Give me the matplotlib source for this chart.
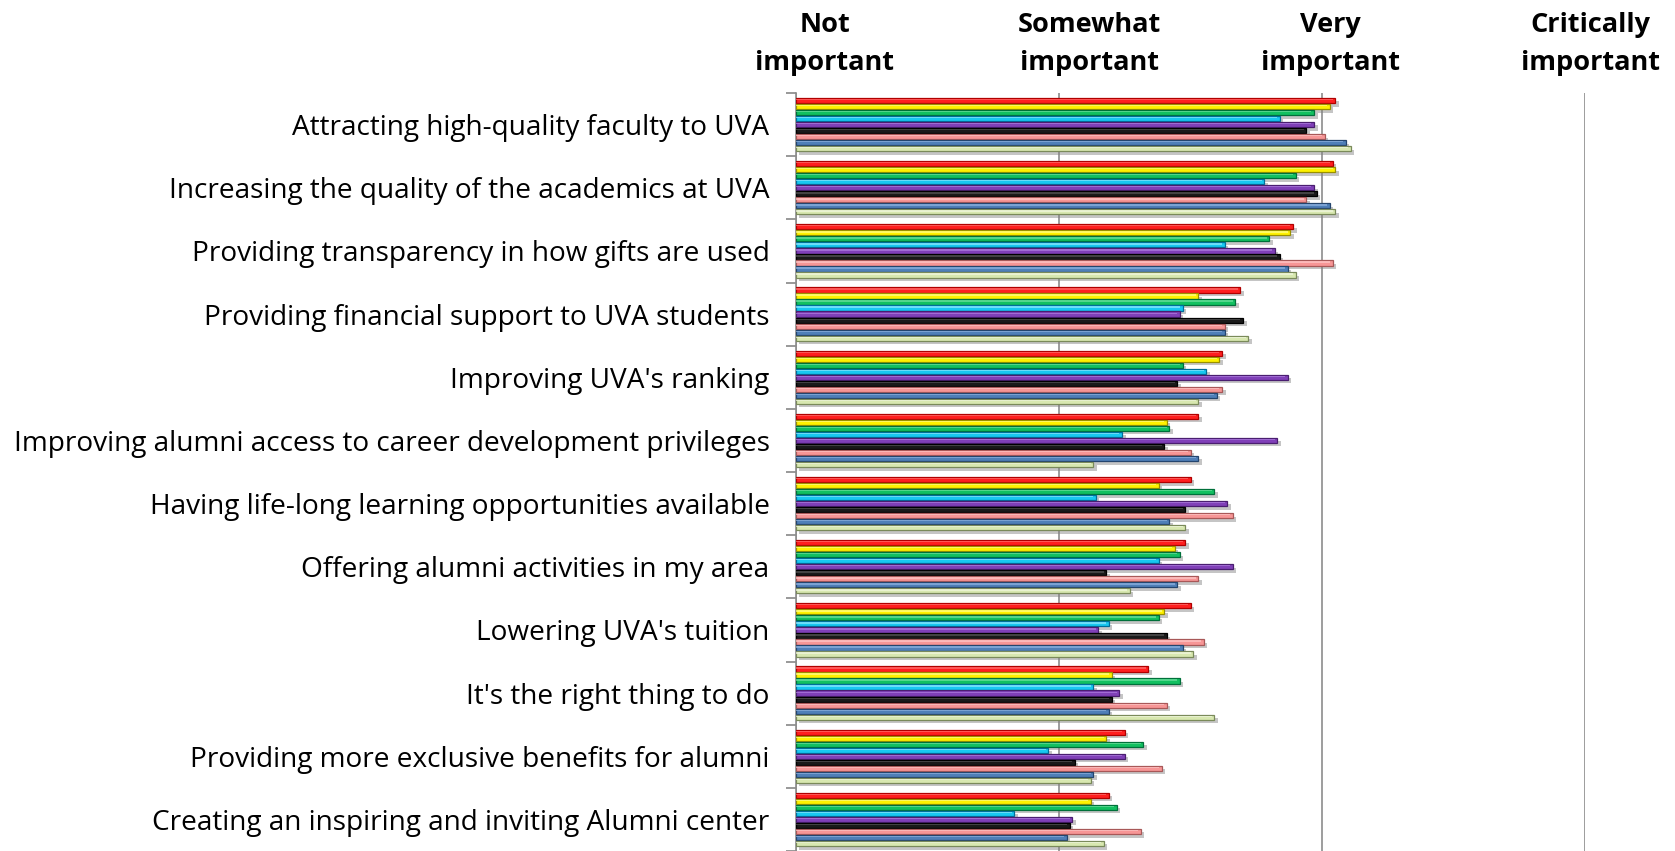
import matplotlib
matplotlib.use("Agg")
import matplotlib.pyplot as plt
import matplotlib.patheffects as pe
import numpy as np

plt.rcParams['font.family'] = ['Open Sans', 'DejaVu Sans']

categories = [
    "Attracting high-quality faculty to UVA",
    "Increasing the quality of the academics at UVA",
    "Providing transparency in how gifts are used",
    "Providing financial support to UVA students",
    "Improving UVA's ranking",
    "Improving alumni access to career development privileges",
    "Having life-long learning opportunities available",
    "Offering alumni activities in my area",
    "Lowering UVA's tuition",
    "It's the right thing to do",
    "Providing more exclusive benefits for alumni",
    "Creating an inspiring and inviting Alumni center",
]

scale_labels = ["Not\nimportant", "Somewhat\nimportant", "Very\nimportant", "Critically\nimportant"]
scale_values = [1, 2, 3, 4]

# one list per series (9 series), values per category (top to bottom)
s_red    = [3.05, 3.04, 2.89, 2.69, 2.62, 2.53, 2.50, 2.48, 2.50, 2.34, 2.25, 2.19]
s_yellow = [3.03, 3.05, 2.88, 2.53, 2.61, 2.41, 2.38, 2.44, 2.40, 2.20, 2.18, 2.12]
s_green  = [2.97, 2.90, 2.80, 2.67, 2.47, 2.42, 2.59, 2.46, 2.38, 2.46, 2.32, 2.22]
s_cyan   = [2.84, 2.78, 2.63, 2.47, 2.56, 2.24, 2.14, 2.38, 2.19, 2.13, 1.96, 1.83]
s_purple = [2.97, 2.97, 2.82, 2.46, 2.87, 2.83, 2.64, 2.66, 2.15, 2.23, 2.25, 2.05]
s_black  = [2.94, 2.98, 2.84, 2.70, 2.45, 2.40, 2.48, 2.18, 2.41, 2.20, 2.06, 2.04]
s_salmon = [3.01, 2.94, 3.04, 2.63, 2.62, 2.50, 2.66, 2.53, 2.55, 2.41, 2.39, 2.31]
s_steel  = [3.09, 3.03, 2.87, 2.63, 2.60, 2.53, 2.42, 2.45, 2.47, 2.19, 2.13, 2.03]
s_lgreen = [3.11, 3.05, 2.90, 2.72, 2.53, 2.13, 2.48, 2.27, 2.51, 2.59, 2.12, 2.17]

series = [s_red, s_yellow, s_green, s_cyan, s_purple, s_black, s_salmon, s_steel, s_lgreen]
face_colors = ["#FF1F1F", "#FFF200", "#12C060", "#18C8F0", "#8040B8",
               "#1A1A1A", "#F79696", "#4F7FB8", "#D8E8B0"]
edge_colors = ["#B00000", "#9A9000", "#00703A", "#006E9A", "#4A1E70",
               "#000000", "#A85858", "#24456E", "#7A8A5A"]
hi_colors = ["#FF7070", "#FFFF90", "#70E0A0", "#90E8FF", "#B080E0",
             "#555555", "#FFC8C8", "#8FB3E0", "#F2F8E0"]

# horizontal offsets (data units) of the header labels from their gridlines
header_offsets = [0.11, 0.115, 0.033, 0.02]

fig = plt.figure(figsize=(16.75, 8.51), dpi=100)
ax = fig.add_axes([796/1675, 0.0, (1585-796)/1675, 1 - 93/851])

n_cat = len(categories)
n_ser = len(series)
slot = 0.86 / n_ser
bar_h = slot * 0.86
y0 = np.arange(n_cat)

for i, vals in enumerate(series):
    vals = np.asarray(vals)
    ypos = y0 - 0.45 + slot * (i + 0.5) + 0.02
    bars = ax.barh(ypos, vals - 1, left=1, height=bar_h, color=face_colors[i],
                   edgecolor=edge_colors[i], linewidth=0.9, zorder=3)
    for b in bars:
        b.set_path_effects([pe.SimplePatchShadow(offset=(2.5, -2.5), shadow_rgbFace="#808080", alpha=0.45),
                            pe.Normal()])
    ax.barh(ypos - bar_h * 0.18, vals - 1.01, left=1, height=bar_h * 0.25,
            color=hi_colors[i], linewidth=0, zorder=4, alpha=0.7)

ax.set_xlim(1, 4)
ax.set_ylim(n_cat - 0.5, -0.5)

ax.set_yticks(y0)
ax.set_yticklabels(categories, fontsize=20.2)
ax.set_yticks(np.arange(n_cat + 1) - 0.5, minor=True)
ax.tick_params(axis='y', which='major', length=0, pad=19)
ax.tick_params(axis='y', which='minor', length=7, width=1.2, color="#888888", direction='out')

ax.set_xticks(scale_values)
ax.set_xticklabels([])
ax.tick_params(axis='x', which='major', length=0)
header_y = 1.0 + 17 / (851 - 93)
for v, lab, off in zip(scale_values, scale_labels, header_offsets):
    ax.text(v + off, header_y, lab, transform=ax.get_xaxis_transform(),
            ha='center', va='bottom', fontsize=19.5, fontweight='bold',
            linespacing=1.6)

ax.grid(axis='x', color="#8C8C8C", linewidth=1.2, zorder=0)
for s in ["top", "right", "bottom"]:
    ax.spines[s].set_visible(False)
ax.spines["left"].set_color("#8C8C8C")
ax.spines["left"].set_linewidth(1.2)
ax.set_axisbelow(True)

fig.savefig("out.png", dpi=100)
